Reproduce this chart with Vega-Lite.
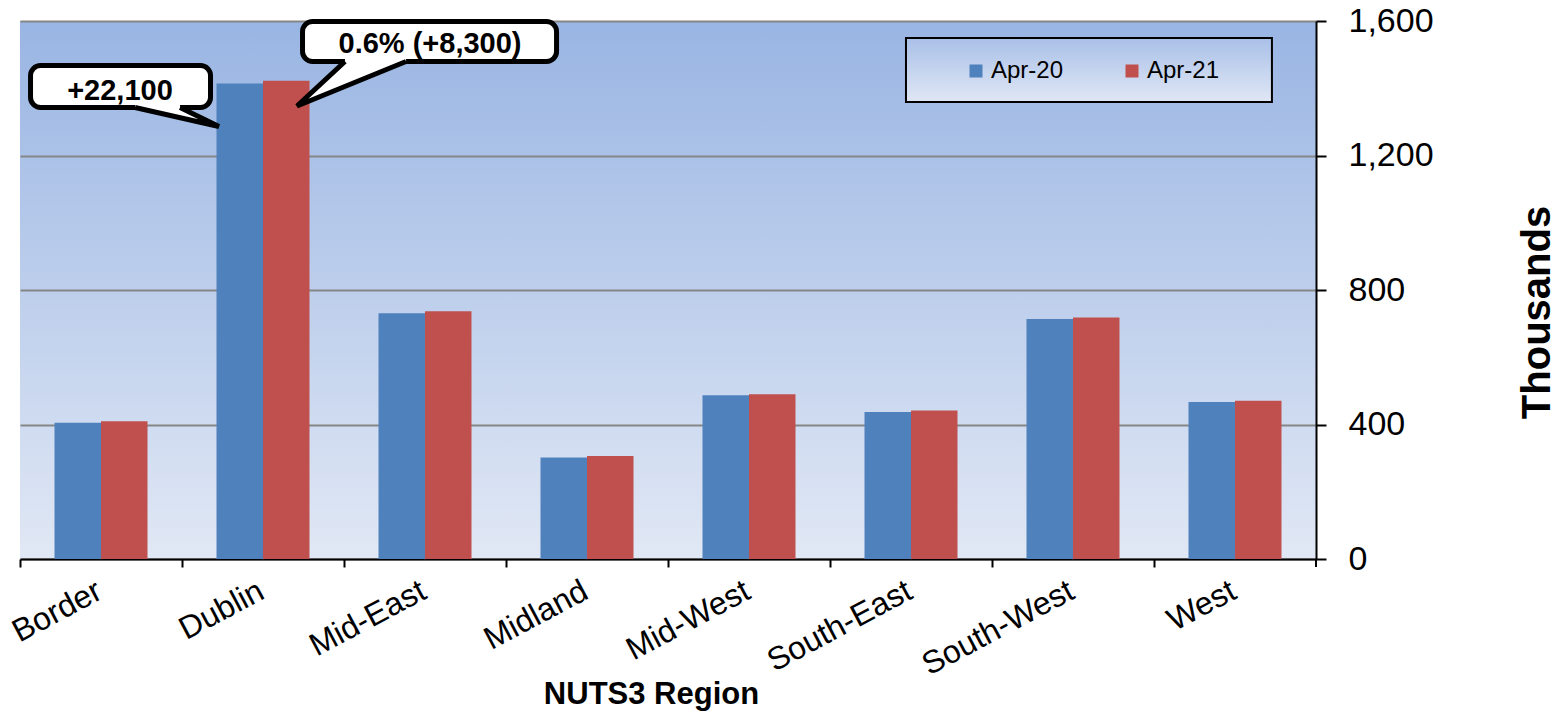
{
  "$schema": "https://vega.github.io/schema/vega-lite/v6.json",
  "width": 1296,
  "height": 538,
  "autosize": {"type": "none"},
  "padding": {"left": 20, "top": 21, "right": 250, "bottom": 153},
  "background": "white",
  "view": {
    "stroke": null,
    "fill": {"gradient": "linear", "x1": 0, "y1": 0, "x2": 0, "y2": 1,
      "stops": [{"offset": 0, "color": "#99b5e3"}, {"offset": 1, "color": "#e1e8f5"}]}
  },
  "config": {"font": "Liberation Sans"},
  "datasets": {
    "bars": [
      {"region": "Border", "period": "Apr-20", "value": 405},
      {"region": "Border", "period": "Apr-21", "value": 410},
      {"region": "Dublin", "period": "Apr-20", "value": 1414},
      {"region": "Dublin", "period": "Apr-21", "value": 1422},
      {"region": "Mid-East", "period": "Apr-20", "value": 731},
      {"region": "Mid-East", "period": "Apr-21", "value": 737},
      {"region": "Midland", "period": "Apr-20", "value": 302},
      {"region": "Midland", "period": "Apr-21", "value": 306},
      {"region": "Mid-West", "period": "Apr-20", "value": 487},
      {"region": "Mid-West", "period": "Apr-21", "value": 490},
      {"region": "South-East", "period": "Apr-20", "value": 437},
      {"region": "South-East", "period": "Apr-21", "value": 442},
      {"region": "South-West", "period": "Apr-20", "value": 714},
      {"region": "South-West", "period": "Apr-21", "value": 718},
      {"region": "West", "period": "Apr-20", "value": 467},
      {"region": "West", "period": "Apr-21", "value": 471}
    ],
    "legendBox": [{"x": 5.469, "x2": 7.728, "y": 1549.5, "y2": 1359.1}],
    "calloutBoxes": [
      {"id": "c1", "x": 0.065, "x2": 1.176, "y": 1467.7, "y2": 1342.8},
      {"id": "c2", "x": 1.744, "x2": 3.312, "y": 1598.5, "y2": 1479.6}
    ],
    "pointerFill": [
      {"id": "c1", "ord": 1, "x": 0.710, "y": 1365.1},
      {"id": "c1", "ord": 2, "x": 0.710, "y": 1342.8},
      {"id": "c1", "ord": 3, "x": 1.228, "y": 1286.3},
      {"id": "c1", "ord": 4, "x": 0.988, "y": 1342.8},
      {"id": "c1", "ord": 5, "x": 0.988, "y": 1365.1},
      {"id": "c2", "ord": 1, "x": 2.006, "y": 1501.9},
      {"id": "c2", "ord": 2, "x": 2.006, "y": 1479.6},
      {"id": "c2", "ord": 3, "x": 1.710, "y": 1347.2},
      {"id": "c2", "ord": 4, "x": 2.383, "y": 1479.6},
      {"id": "c2", "ord": 5, "x": 2.383, "y": 1501.9}
    ],
    "pointerEdge": [
      {"id": "c1", "ord": 1, "x": 0.710, "y": 1342.8},
      {"id": "c1", "ord": 2, "x": 1.228, "y": 1286.3},
      {"id": "c1", "ord": 3, "x": 0.988, "y": 1342.8},
      {"id": "c2", "ord": 1, "x": 2.006, "y": 1479.6},
      {"id": "c2", "ord": 2, "x": 1.710, "y": 1347.2},
      {"id": "c2", "ord": 3, "x": 2.383, "y": 1479.6}
    ],
    "calloutText": [
      {"label": "+22,100", "x": 0.617, "y": 1365.1},
      {"label": "0.6% (+8,300)", "x": 2.531, "y": 1504.8}
    ],
    "endTick": [{"x": 8, "y": 0, "y2": -24}]
  },
  "layer": [
    {
      "data": {"name": "bars"},
      "mark": {"type": "bar"},
      "encoding": {
        "x": {
          "field": "region", "type": "nominal", "sort": null,
          "scale": {"paddingInner": 0.426, "paddingOuter": 0.213},
          "axis": {
            "title": "NUTS3 Region",
            "titleFontSize": 31, "titleFontWeight": "bold", "titleColor": "black",
            "titleX": 631, "titleY": 144, "titleBaseline": "alphabetic", "titleAlign": "center",
            "labelFontSize": 32, "labelAngle": -28, "labelAlign": "right", "labelBaseline": "top",
            "labelColor": "black", "labelPadding": 8, "labelOffset": 72,
            "domainColor": "black", "domainWidth": 2,
            "tickColor": "black", "tickWidth": 2, "tickSize": 8, "tickOffset": -81,
            "grid": false
          }
        },
        "xOffset": {"field": "period", "sort": ["Apr-20", "Apr-21"], "scale": {"paddingInner": 0, "paddingOuter": 0}},
        "y": {
          "field": "value", "type": "quantitative",
          "scale": {"domain": [0, 1600], "nice": false},
          "axis": {
            "orient": "right", "values": [0, 400, 800, 1200, 1600], "format": ",.0f",
            "title": "Thousands", "titleFontSize": 40, "titleFontWeight": "bold", "titleColor": "black",
            "titleAngle": -90, "titleX": 221, "titleY": 291, "titleBaseline": "middle", "titleAlign": "center",
            "labelFontSize": 34, "labelColor": "black", "labelPadding": 22,
            "domainColor": "black", "domainWidth": 2,
            "tickColor": "black", "tickWidth": 2, "tickSize": 10,
            "grid": true, "gridColor": "#868686", "gridWidth": 2
          }
        },
        "color": {
          "field": "period", "type": "nominal",
          "scale": {"domain": ["Apr-20", "Apr-21"], "range": ["#4f81bd", "#c0504d"]},
          "legend": {
            "orient": "none", "legendX": 944, "legendY": 38, "direction": "horizontal",
            "title": null, "symbolType": "square", "symbolSize": 169, "symbolStrokeWidth": 0,
            "labelFontSize": 24, "labelColor": "black", "labelOffset": 3,
            "columnPadding": 56, "padding": 0
          }
        }
      }
    },
    {
      "layer": [
        {
          "data": {"name": "legendBox"},
          "mark": {"type": "rect", "stroke": "black", "strokeWidth": 2,
            "fill": {"gradient": "linear", "x1": 0, "y1": 0, "x2": 0, "y2": 1,
              "stops": [{"offset": 0, "color": "#a9c0e8"}, {"offset": 1, "color": "#e0e7f5"}]}},
          "encoding": {
            "x": {"field": "x", "type": "quantitative", "scale": {"domain": [0, 8], "nice": false, "zero": false}, "axis": null},
            "x2": {"field": "x2"},
            "y": {"field": "y", "type": "quantitative", "scale": {"domain": [0, 1600], "nice": false}, "axis": null},
            "y2": {"field": "y2"}
          }
        },
        {
          "data": {"name": "endTick"},
          "mark": {"type": "rule", "stroke": "black", "strokeWidth": 2, "clip": false},
          "encoding": {
            "x": {"field": "x", "type": "quantitative", "scale": {"domain": [0, 8], "nice": false, "zero": false}, "axis": null},
            "y": {"field": "y", "type": "quantitative", "scale": {"domain": [0, 1600], "nice": false}, "axis": null},
            "y2": {"field": "y2"}
          }
        },
        {
          "data": {"name": "calloutBoxes"},
          "mark": {"type": "rect", "fill": "white", "stroke": "black", "strokeWidth": 5, "cornerRadius": 10},
          "encoding": {
            "x": {"field": "x", "type": "quantitative", "scale": {"domain": [0, 8], "nice": false, "zero": false}, "axis": null},
            "x2": {"field": "x2"},
            "y": {"field": "y", "type": "quantitative", "scale": {"domain": [0, 1600], "nice": false}, "axis": null},
            "y2": {"field": "y2"}
          }
        },
        {
          "data": {"name": "pointerFill"},
          "mark": {"type": "line", "interpolate": "linear-closed", "fill": "white", "stroke": "white", "strokeWidth": 0},
          "encoding": {
            "x": {"field": "x", "type": "quantitative", "scale": {"domain": [0, 8], "nice": false, "zero": false}, "axis": null},
            "y": {"field": "y", "type": "quantitative", "scale": {"domain": [0, 1600], "nice": false}, "axis": null},
            "detail": {"field": "id"},
            "order": {"field": "ord"}
          }
        },
        {
          "data": {"name": "pointerEdge"},
          "mark": {"type": "line", "stroke": "black", "strokeWidth": 5, "strokeJoin": "miter"},
          "encoding": {
            "x": {"field": "x", "type": "quantitative", "scale": {"domain": [0, 8], "nice": false, "zero": false}, "axis": null},
            "y": {"field": "y", "type": "quantitative", "scale": {"domain": [0, 1600], "nice": false}, "axis": null},
            "detail": {"field": "id"},
            "order": {"field": "ord"}
          }
        },
        {
          "data": {"name": "calloutText"},
          "mark": {"type": "text", "fontSize": 29, "fontWeight": "bold", "color": "black", "align": "center", "baseline": "alphabetic"},
          "encoding": {
            "x": {"field": "x", "type": "quantitative", "scale": {"domain": [0, 8], "nice": false, "zero": false}, "axis": null},
            "y": {"field": "y", "type": "quantitative", "scale": {"domain": [0, 1600], "nice": false}, "axis": null},
            "text": {"field": "label"}
          }
        }
      ]
    }
  ],
  "resolve": {"scale": {"x": "independent", "y": "independent"}, "axis": {"x": "independent", "y": "independent"}}
}
